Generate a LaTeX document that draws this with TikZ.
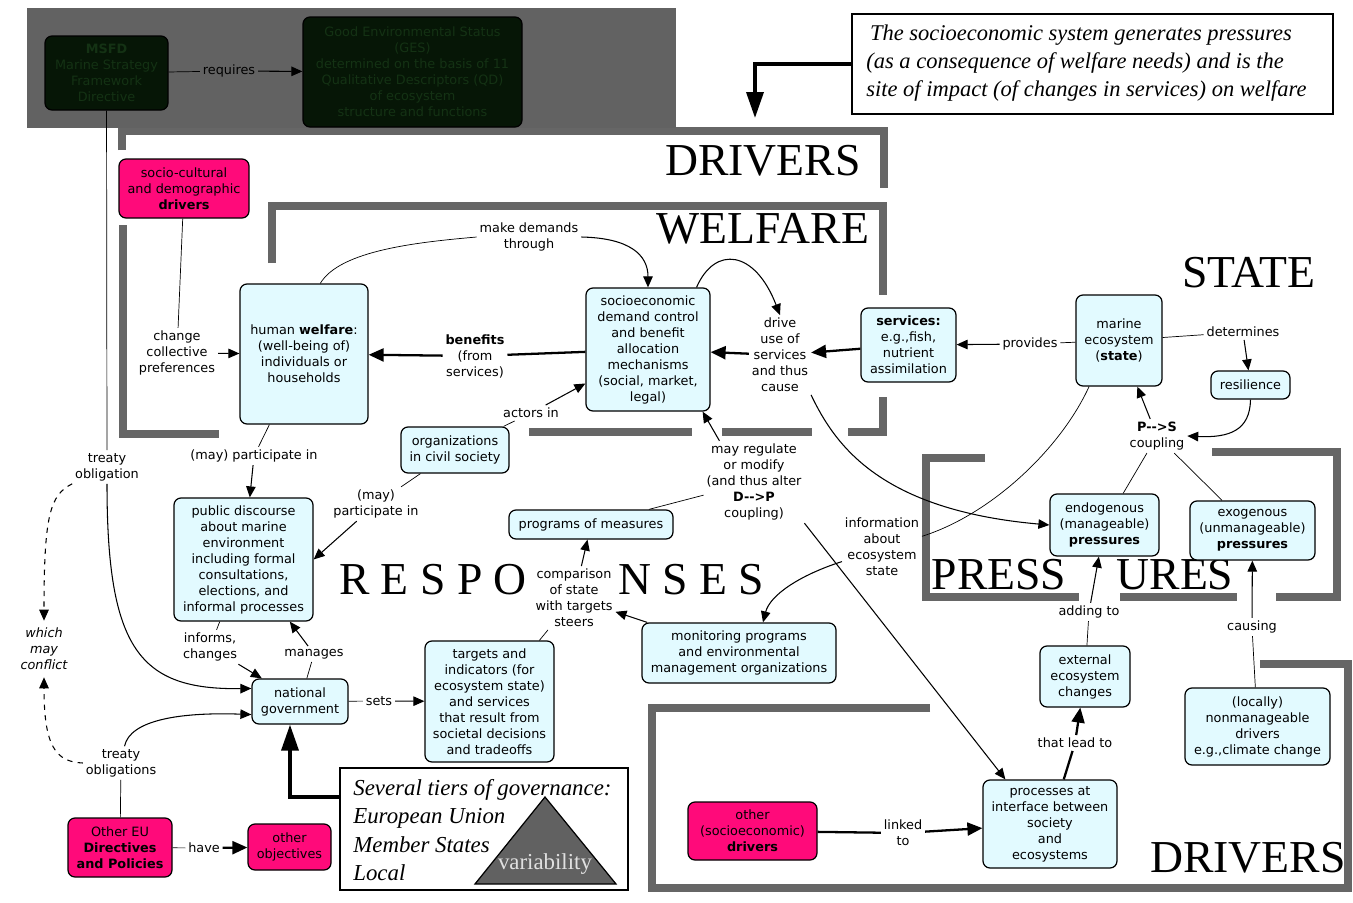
\documentclass[tikz,border=0pt]{standalone}
\usepackage{fontspec}
\setmainfont{DejaVu Sans}
\newfontfamily\tmsfont{Liberation Serif}
\usetikzlibrary{arrows.meta,calc}

\definecolor{boxcyan}{RGB}{226,250,255}
\definecolor{drvpink}{RGB}{255,10,122}
\definecolor{bargray}{RGB}{102,102,102}
\definecolor{panelgray}{RGB}{98,98,98}
\definecolor{msfdfill}{RGB}{6,22,6}
\definecolor{msfdtext}{RGB}{20,50,20}

\tikzset{
  box/.style={draw, line width=0.7pt, rounded corners=0.14cm, fill=boxcyan, align=center, inner sep=1pt},
  pinkbox/.style={box, fill=drvpink},
  darkbox/.style={box, fill=msfdfill, text=msfdtext},
  sz/.style 2 args={minimum width=#1*0.02cm, minimum height=#2*0.02cm},
  lbl/.style={align=center, inner sep=1.5pt},
  bar/.style={draw=bargray, line width=0.16cm},
  bigword/.style={font=\tmsfont\fontsize{26}{26}\selectfont, inner sep=0pt},
  arr/.style={-{Triangle[length=0.22cm,width=0.19cm]}, line width=0.6pt},
  thickarr/.style={-{Triangle[length=0.3cm,width=0.26cm]}, line width=1.3pt},
  bigarr/.style={-{Triangle[length=0.52cm,width=0.34cm]}, line width=2pt},
  dasharr/.style={arr, dash pattern=on 3pt off 3pt},
}

\begin{document}
\begin{tikzpicture}[x=0.02cm, y=-0.02cm, font=\fontsize{7.3}{9.1}\selectfont]
		%%%%% START %%%%%
		\fill[white] (0,0) rectangle (1353,903);
		\useasboundingbox (0,0) rectangle (1353,903);
		
		% region brackets
		\draw[bar] (122,150) -- (122,131) -- (884,131) -- (884,188);
		\draw[bar] (123,225) -- (123,434) -- (219,434);
		\draw[bar] (272,263) -- (272,206) -- (883,206) -- (883,295);
		\draw[bar] (883,397) -- (883,432) -- (848,432);
		\draw[bar] (529,432) -- (692,432);
		\draw[bar] (722,432) -- (812,432);
		\draw[bar] (985,458) -- (926,458) -- (926,597) -- (1079,597);
		\draw[bar] (1120,597) -- (1237,597);
		\draw[bar] (1212,452) -- (1337,452) -- (1337,597) -- (1276,597);
		\draw[bar] (930,708) -- (652,708) -- (652,888) -- (1348,888) -- (1348,664) -- (1260,664);
		
		\fill[panelgray] (27,8) rectangle (676,128);
		
		\node[bigword] (wdrivers) at (763,161) {DRIVERS};
		\node[bigword] (wwelfare) at (763,229) {WELFARE};
		\node[bigword] (wstate) at (1249,273) {STATE};
		\node[bigword] (wrespo) at (433,580) {R E S P O};
		\node[bigword] (wnses) at (691,580) {N S E S};
		\node[bigword] (wpress) at (999,575) {PRESS};
		\node[bigword] (wures) at (1175,575) {URES};
		\node[bigword] (wdrivers2) at (1248,858) {DRIVERS};
		
		% boxes
		\node[darkbox, sz={123}{74}] (msfd) at (106.5,73) {\textbf{MSFD}\\Marine Strategy\\Framework\\Directive};
		\node[darkbox, sz={219}{110}] (ges) at (412.5,72) {Good Environmental Status\\(GES)\\determined on the basis of 11\\Qualitative Descriptors (QD)\\of ecosystem\\structure and functions};
		\node[pinkbox, sz={130}{59}] (sociodrv) at (184,188.5) {socio-cultural\\and demographic\\\textbf{drivers}};
		\node[box, sz={128}{140}] (welfare) at (304,354) {human \textbf{welfare}:\\(well-being of)\\individuals or\\households};
		\node[box, sz={124}{123}] (demand) at (648,349.5) {socioeconomic\\demand control\\and benefit\\allocation\\mechanisms\\(social, market,\\legal)};
		\node[box, sz={95}{74}] (services) at (908.5,345) {\textbf{services:}\\e.g.,fish,\\nutrient\\assimilation};
		\node[box, sz={86}{91}] (marine) at (1119,340.5) {marine\\ecosystem\\(\textbf{state})};
		\node[box, sz={79}{28}] (resil) at (1250.5,385) {resilience};
		\node[box, sz={109}{62}] (endo) at (1104.5,525) {endogenous\\(manageable)\\\textbf{pressures}};
		\node[box, sz={125}{59}] (exo) at (1252.5,530.5) {exogenous\\(unmanageable)\\\textbf{pressures}};
		\node[box, sz={90}{61}] (extchg) at (1085,676.5) {external\\ecosystem\\changes};
		\node[box, sz={145}{77}] (localdrv) at (1257.5,726.5) {(locally)\\nonmanageable\\drivers\\e.g.,climate change};
		\node[box, sz={134}{88}] (procs) at (1050,824) {processes at\\interface between\\society\\and\\ecosystems};
		\node[pinkbox, sz={129}{58}] (otherdrv) at (752.5,831) {other\\(socioeconomic)\\\textbf{drivers}};
		\node[box, sz={108}{46}] (orgs) at (455,450) {organizations\\in civil society};
		\node[box, sz={139}{123}] (public) at (243.5,559.5) {public discourse\\about marine\\environment\\including formal\\consultations,\\elections, and\\informal processes};
		\node[box, sz={164}{29}] (progs) at (591,524.5) {programs of measures};
		\node[box, sz={194}{60}] (monit) at (739,653) {monitoring programs\\and environmental\\management organizations};
		\node[box, sz={96}{45}] (natgov) at (300,701.5) {national\\government};
		\node[box, sz={129}{121}] (targets) at (489.5,701.5) {targets and\\indicators (for\\ecosystem state)\\and services\\that result from\\societal decisions\\and tradeoffs};
		\node[pinkbox, sz={104}{59}] (othereu) at (120,847.5) {Other EU\\\textbf{Directives}\\\textbf{and Policies}};
		\node[pinkbox, sz={83}{46}] (otherobj) at (289.5,847) {other\\objectives};
		
		\node[draw, line width=0.85pt, sz={481}{100}] (note) at (1092.5,64) {};
		\node[anchor=west, align=left, inner sep=0pt, font=\tmsfont\itshape\fontsize{12.8}{16}\selectfont] (notetext) at (866,63) {\,The socioeconomic system generates pressures\\(as a consequence of welfare needs) and is the\\site of impact (of changes in services) on welfare};
		
		\node[draw, line width=0.85pt, sz={288}{122}] (govbox) at (484,829) {};
		\draw[fill=black!62, line width=0.7pt] (545,797) -- (616,884) -- (475,884) -- cycle;
		\node[anchor=north west, align=left, inner sep=0pt, font=\tmsfont\itshape\fontsize{13}{16.2}\selectfont] (govtext) at (353,779) {Several tiers of governance:\\European Union\\Member States\\Local};
		\node[text=black!12, font=\tmsfont\fontsize{13}{13}\selectfont] (variab) at (545,864) {variability};
		
		% connector labels
		\node[lbl] (lrequires) at (229,71) {requires};
		\node[lbl] (lmakedem) at (529,237) {make demands\\through};
		\node[lbl] (lchange) at (177,353) {change\\collective\\preferences};
		\node[lbl] (lbenefits) at (475,356) {\textbf{benefits}\\(from\\services)};
		\node[lbl] (ldrive) at (780,355) {drive\\use of\\services\\and thus\\cause};
		\node[lbl] (lprovides) at (1030,344) {provides};
		\node[lbl] (ldetermines) at (1243,332) {determines};
		\node[lbl] (lps) at (1157,436) {\textbf{P-{}->S}\\coupling};
		\node[lbl] (lactors) at (531,413) {actors in};
		\node[lbl] (lpart1) at (254,456) {(may) participate in};
		\node[lbl] (lpart2) at (376,504) {(may)\\participate in};
		\node[lbl] (ltreaty1) at (107,467) {treaty\\obligation};
		\node[lbl] (ltreaty2) at (121,763) {treaty\\obligations};
		\node[lbl, inner sep=0.14cm, font=\fontsize{7.3}{9.1}\selectfont\itshape] (lconflict) at (44,649) {which\\may\\conflict};
		\node[lbl] (lregulate) at (754,482) {may regulate\\or modify\\(and thus alter\\\textbf{D-{}->P}\\coupling)};
		\node[lbl] (linfo) at (882,547) {information\\about\\ecosystem\\state};
		\node[lbl] (lcompare) at (574,598) {comparison\\of state\\with targets\\steers};
		\node[lbl] (linforms) at (210,647) {informs,\\changes};
		\node[lbl] (lmanages) at (314,654) {manages};
		\node[lbl] (lsets) at (379,701) {sets};
		\node[lbl] (lhave) at (204,848) {have};
		\node[lbl] (ladding) at (1089,612) {adding to};
		\node[lbl] (lcausing) at (1252,627) {causing};
		\node[lbl] (lleadto) at (1075,743) {that lead to};
		\node[lbl] (llinked) at (903,833) {linked\\to};
		
		% connectors
		\draw (msfd) -- (lrequires);
		\draw[arr] (lrequires) -- (ges);
		\draw (msfd) -- (ltreaty1);
		\draw[arr] (ltreaty1) .. controls (107,650) and (140,690) .. (natgov.165);
		\draw (othereu) -- (ltreaty2);
		\draw[arr] (ltreaty2) .. controls (130,720) and (180,712) .. (natgov.195);
		\draw[dasharr] (ltreaty1.south west) .. controls (50,495) and (44,515) .. (lconflict.north);
		\draw[dasharr] (ltreaty2.west) .. controls (55,762) and (44,745) .. (lconflict.south);
		
		\draw (sociodrv) -- (lchange);
		\draw[arr] (lchange) -- (welfare);
		\draw (welfare.77) .. controls (340,250) and (420,242) .. (lmakedem.west);
		\draw[arr] (lmakedem.east) .. controls (630,238) and (648,255) .. (demand.north);
		\draw[line width=1.3pt] (demand) -- (lbenefits);
		\draw[thickarr] (lbenefits) -- (welfare);
		\draw[thickarr] (services) -- (ldrive);
		\draw[thickarr] (ldrive) -- (demand);
		\draw[arr] (demand.52) .. controls (715,245) and (755,250) .. (ldrive.north);
		\draw[arr] (ldrive.south east) .. controls (835,445) and (880,510) .. (endo.west);
		
		\draw (marine) -- (lprovides);
		\draw[arr] (lprovides) -- (services);
		\draw (marine) -- (ldetermines);
		\draw[arr] (ldetermines) -- (resil);
		\draw[arr] (resil.south) .. controls (1250,430) and (1230,438) .. (lps.east);
		\draw[arr] (lps) -- (marine);
		\draw (lps) -- (endo);
		\draw (lps) -- (exo);
		\draw (marine.237) .. controls (1060,450) and (990,515) .. (linfo.15);
		\draw[arr] (linfo.200) .. controls (800,575) and (770,595) .. ($(monit.north)+(24,0)$);
		
		\draw (orgs) -- (lactors);
		\draw[arr] (lactors) -- (demand);
		\draw (orgs) -- (lpart2);
		\draw[arr] (lpart2) -- (public.east);
		\draw (welfare) -- (lpart1);
		\draw[arr] (lpart1) -- (public);
		\draw (public) -- (linforms);
		\draw[arr] (linforms) -- (natgov);
		\draw (natgov) -- (lmanages);
		\draw[arr] (lmanages) -- (public);
		\draw (natgov) -- (lsets);
		\draw[arr] (lsets) -- (targets);
		\draw[bigarr] ([yshift=0.64cm]govbox.west) -| ([xshift=-0.2cm]natgov.south);
		\draw (othereu) -- (lhave);
		\draw[thickarr] (lhave) -- (otherobj);
		
		\draw (progs) -- (lregulate);
		\draw[arr] (lregulate.130) -- ($(demand.south east)+(-8,0)$);
		\draw[arr] (lregulate.south east) -- (procs.135);
		\draw (targets) -- (lcompare);
		\draw[arr] (lcompare) -- (progs);
		\draw[arr] (monit) -- (lcompare);
		
		\draw (extchg) -- (ladding);
		\draw[arr] (ladding) -- (endo);
		\draw[line width=1.3pt] (procs) -- (lleadto);
		\draw[thickarr] (lleadto) -- (extchg);
		\draw (localdrv) -- (lcausing);
		\draw[arr] (lcausing) -- (exo);
		\draw[line width=1.3pt] (otherdrv) -- (llinked);
		\draw[thickarr] (llinked) -- (procs);
		
		\coordinate (drvtip) at (755,118);
		\draw[bigarr] (note.west) -| (drvtip);
		%%%%% END %%%%%
\end{tikzpicture}
\end{document}
